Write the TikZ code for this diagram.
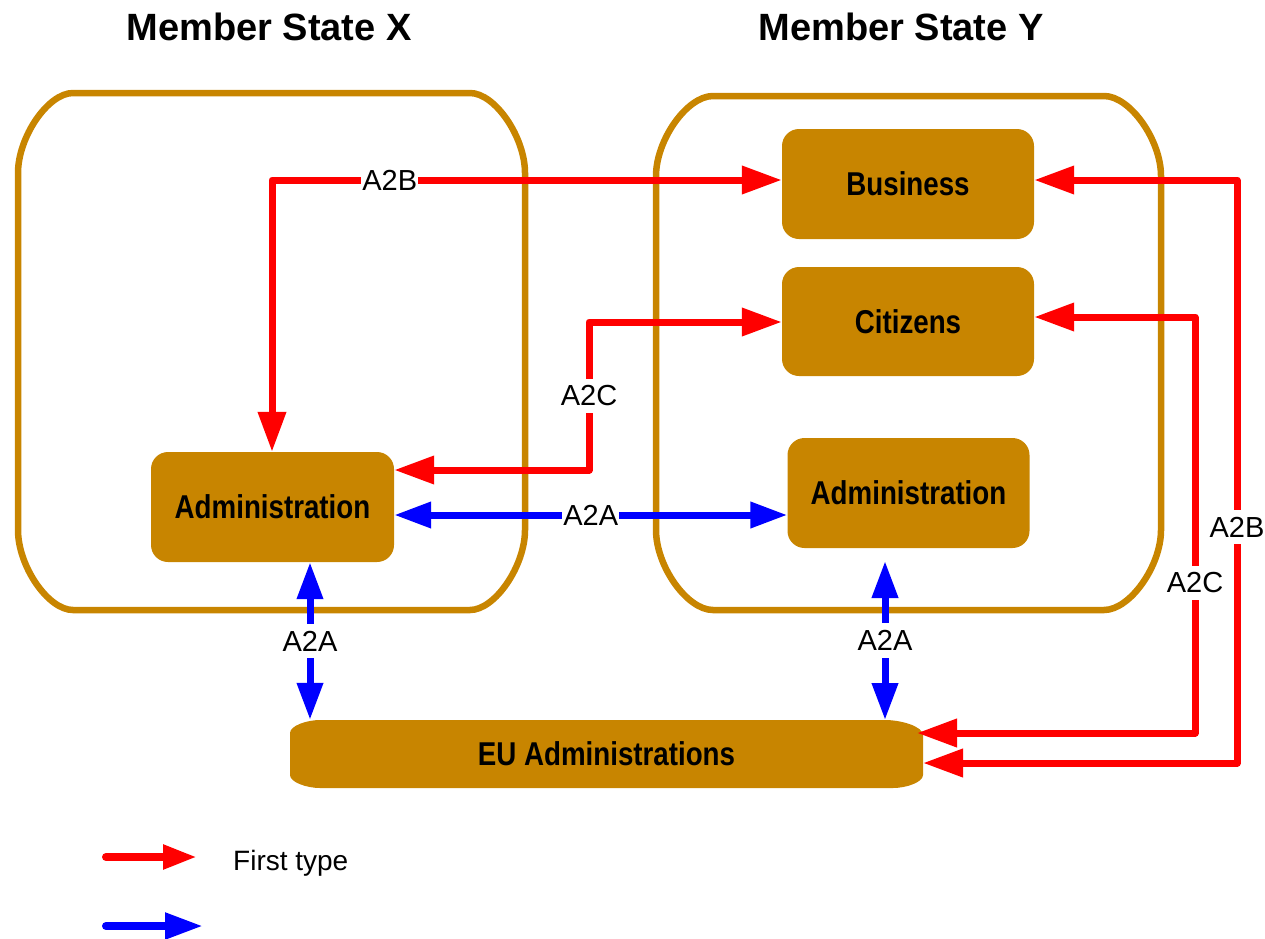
\documentclass[tikz,border=0pt]{standalone}
\usepackage{fontspec}
\setmainfont{Liberation Sans}
\newfontfamily\boxfont[FakeStretch=0.84]{Liberation Sans}
\usetikzlibrary{arrows.meta}
\definecolor{gold}{RGB}{200,133,0}
\definecolor{myred}{RGB}{255,0,0}
\definecolor{myblue}{RGB}{0,0,255}
\begin{document}
\begin{tikzpicture}[x=1pt,y=-1pt,
  frame/.style={draw=gold,line width=6.5pt},
  box/.style={fill=gold,rounded corners=17pt,inner sep=0pt,
    font=\boxfont\bfseries\fontsize{33}{36}\selectfont},
  title/.style={font=\bfseries\fontsize{38}{41}\selectfont},
  lbl/.style={fill=white,inner xsep=1pt,inner ysep=7pt,font=\fontsize{29}{31}\selectfont},
  redarr/.style={draw=myred,line width=7pt,line join=round,
    >={Triangle[length=40pt,width=27pt]},<->},
  bluearr/.style={draw=myblue,line width=7pt,line join=round,
    >={Triangle[length=37pt,width=25pt]},<->}
]
\useasboundingbox (0,0) rectangle (1265,938);
% titles
\node[title,anchor=base] (tX) at (269,40) {Member State X};
\node[title,anchor=base] (tY) at (901,40) {Member State Y};
% frames
\draw[frame] (18,173) .. controls (18,137) and (48,93) .. (73,93) -- (470,93)
  .. controls (495,93) and (525,137) .. (525,173) -- (525,530)
  .. controls (525,566) and (495,610) .. (470,610) -- (73,610)
  .. controls (48,610) and (18,566) .. (18,530) -- cycle;
\draw[frame] (656,176) .. controls (656,140) and (687,96) .. (713,96) -- (1104,96)
  .. controls (1130,96) and (1161,140) .. (1161,176) -- (1161,530)
  .. controls (1161,566) and (1130,610) .. (1104,610) -- (713,610)
  .. controls (687,610) and (656,566) .. (656,530) -- cycle;
% boxes
\node[box,minimum width=243pt,minimum height=110pt] (admL) at (272.5,507) {Administration};
\node[box,minimum width=252pt,minimum height=110pt] (bus) at (908,184) {Business};
\node[box,minimum width=252pt,minimum height=109pt] (cit) at (908,321.5) {Citizens};
\node[box,minimum width=242pt,minimum height=110pt] (admR) at (908.5,493) {Administration};
% EU shape
\fill[gold] (290,733) .. controls (290,725.8) and (306.6,720) .. (320,720) -- (885,720)
  .. controls (902,720) and (923,726.7) .. (923,735) -- (923,775)
  .. controls (923,782.2) and (906.4,788) .. (893,788) -- (320,788)
  .. controls (306.6,788) and (290,782.2) .. (290,775) -- cycle;
\node[inner sep=0pt,minimum width=633pt,minimum height=68pt,
  font=\boxfont\bfseries\fontsize{33}{36}\selectfont] (eu) at (606.5,754) {EU Administrations};
% coordinates
\coordinate (c1) at (272,180);
\coordinate (c2) at (589,322);
\coordinate (c3) at (589,470);
\coordinate (c4) at (589,515);
\coordinate (c5) at (310,640);
\coordinate (c6t) at (885,561);
\coordinate (c6b) at (885,720);
\coordinate (c7) at (1237,180);
\coordinate (c8) at (1237,763);
\coordinate (c9) at (1195,317);
\coordinate (c10) at (1195,733);
\coordinate (euB) at (923,763);
\coordinate (euC) at (917,733);
% red connectors
\draw[redarr] (c1 |- admL.north) -- (c1) -- node[lbl,pos=0.231] (l1) {A2B} (bus.west |- c1);
\draw[redarr] (cit.west |- c2) -- (c2) -- node[lbl,pos=0.5] (l2) {A2C} (c3) -- (admL.east |- c3);
\draw[redarr] (bus.east |- c7) -- (c7) -- node[lbl,pos=0.595] (l4) {A2B} (c8) -- (euB);
\draw[redarr] (cit.east |- c9) -- (c9) -- node[lbl,pos=0.639] (l5) {A2C} (c10) -- (euC);
% blue connectors
\draw[bluearr] (admL.east |- c4) -- node[lbl] (l3) {A2A} (admR.west |- c4);
\draw[bluearr] (c5 |- admL.south) -- node[lbl] (l6) {A2A} (c5 |- eu.north);
\draw[bluearr] (c6t) -- node[lbl,pos=0.5] (l7) {A2A} (c6b);
% legend
\coordinate (lr1) at (106,857);
\coordinate (lr2) at (197,857);
\coordinate (lb1) at (106,926);
\coordinate (lb2) at (203,926);
\draw[draw=myred,line width=8pt,line cap=round,-{Triangle[length=34pt,width=23pt]}] (lr1) -- (lr2);
\draw[draw=myblue,line width=8pt,line cap=round,-{Triangle[length=38pt,width=25pt]}] (lb1) -- (lb2);
\node[anchor=base west,inner sep=0pt,font=\fontsize{28}{30}\selectfont] (lgt) at (233,870) {First type};
\end{tikzpicture}
\end{document}
